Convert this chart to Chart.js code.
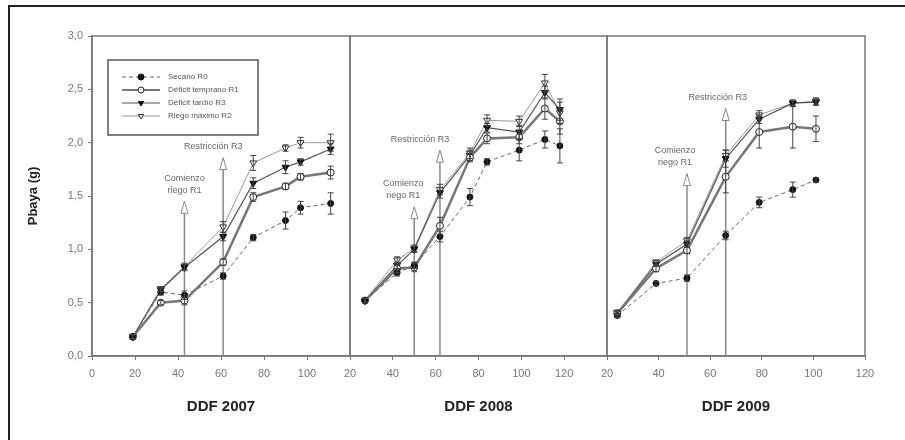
<!DOCTYPE html>
<html>
<head>
<meta charset="utf-8">
<script src="https://cdn.jsdelivr.net/npm/chart.js@4.4.1/dist/chart.umd.min.js"></script>
<style>
  body { margin: 0; background: #fff; }
  #wrap { position: relative; width: 905px; height: 440px; overflow: hidden; background: #fff; }
  #frame { position: absolute; left: 8px; top: 5px; width: 910px; height: 450px;
           border-top: 2px solid #222; border-left: 2px solid #222; }
  canvas { position: absolute; top: 0; }
</style>
</head>
<body>
<div id="wrap">
  <div id="frame"></div>
  <canvas id="c2007" width="360" height="440" style="left:0px;width:360px;height:440px"></canvas>
  <canvas id="c2008" width="290" height="440" style="left:330px;width:290px;height:440px"></canvas>
  <canvas id="c2009" width="300" height="440" style="left:587px;width:300px;height:440px"></canvas>
</div>
<script>
"use strict";

const seriesNames = ['Secano R0', 'Déficit temprano R1', 'Déficit tardío R3', 'Riego máximo R2'];

// DDF 2007
const days2007 = [19, 32, 43, 61, 75, 90, 97, 111];
const secano2007 = [0.18, 0.60, 0.57, 0.75, 1.11, 1.27, 1.39, 1.43];
const temprano2007 = [0.18, 0.50, 0.52, 0.88, 1.49, 1.59, 1.68, 1.72];
const tardio2007 = [0.18, 0.62, 0.83, 1.12, 1.62, 1.77, 1.82, 1.94];
const maximo2007 = [0.18, 0.63, 0.84, 1.21, 1.81, 1.95, 2.00, 2.00];
const secanoErr2007 = [0.02, 0.03, 0.04, 0.03, 0.03, 0.08, 0.06, 0.10];
const tempranoErr2007 = [0.02, 0.02, 0.04, 0.03, 0.04, 0.03, 0.03, 0.06];
const tardioErr2007 = [0.02, 0.02, 0.03, 0.04, 0.05, 0.06, 0.03, 0.05];
const maximoErr2007 = [0.02, 0.02, 0.03, 0.05, 0.07, 0.03, 0.05, 0.08];

// DDF 2008
const days2008 = [27, 42, 50, 62, 76, 84, 99, 111, 118];
const secano2008 = [0.52, 0.78, 0.85, 1.12, 1.49, 1.82, 1.93, 2.03, 1.97];
const temprano2008 = [0.52, 0.82, 0.83, 1.22, 1.86, 2.04, 2.05, 2.32, 2.20];
const tardio2008 = [0.52, 0.85, 1.00, 1.53, 1.88, 2.14, 2.10, 2.47, 2.31];
const maximo2008 = [0.52, 0.90, 1.01, 1.56, 1.90, 2.21, 2.20, 2.56, 2.28];
const secanoErr2008 = [0.02, 0.03, 0.03, 0.05, 0.08, 0.03, 0.10, 0.08, 0.16];
const tempranoErr2008 = [0.02, 0.04, 0.04, 0.08, 0.04, 0.05, 0.06, 0.10, 0.12];
const tardioErr2008 = [0.02, 0.03, 0.03, 0.05, 0.05, 0.04, 0.06, 0.06, 0.10];
const maximoErr2008 = [0.02, 0.03, 0.03, 0.05, 0.05, 0.05, 0.05, 0.08, 0.10];

// DDF 2009
const days2009 = [24, 39, 51, 66, 79, 92, 101];
const secano2009 = [0.38, 0.68, 0.73, 1.13, 1.44, 1.56, 1.65];
const temprano2009 = [0.40, 0.82, 0.99, 1.68, 2.10, 2.15, 2.13];
const tardio2009 = [0.40, 0.86, 1.05, 1.85, 2.22, 2.37, 2.38];
const maximo2009 = [0.41, 0.88, 1.08, 1.88, 2.26, 2.37, 2.39];
const secanoErr2009 = [0.02, 0.02, 0.03, 0.04, 0.05, 0.07, 0.02];
const tempranoErr2009 = [0.02, 0.03, 0.03, 0.15, 0.15, 0.20, 0.12];
const tardioErr2009 = [0.02, 0.02, 0.03, 0.08, 0.04, 0.03, 0.03];
const maximoErr2009 = [0.02, 0.02, 0.03, 0.05, 0.04, 0.03, 0.03];

const fontFam = '"Liberation Sans", Arial, sans-serif';

const seriesStyles = [
    { borderColor: '#666', borderWidth: 1, borderDash: [4, 3], pointStyle: 'circle', pointRotation: 0,
      pointRadius: 3, pointBackgroundColor: '#111', pointBorderColor: '#111' },
    { borderColor: '#777', borderWidth: 2.5, borderDash: [], pointStyle: 'circle', pointRotation: 0,
      pointRadius: 3.5, pointBackgroundColor: '#fff', pointBorderColor: '#222' },
    { borderColor: '#555', borderWidth: 1.2, borderDash: [], pointStyle: 'triangle', pointRotation: 180,
      pointRadius: 4, pointBackgroundColor: '#111', pointBorderColor: '#111' },
    { borderColor: '#999', borderWidth: 1, borderDash: [], pointStyle: 'triangle', pointRotation: 180,
      pointRadius: 4, pointBackgroundColor: '#fff', pointBorderColor: '#333' }
];

function make_datasets(days, values, errors) {
    return values.map((vals, i) => Object.assign({
        label: seriesNames[i],
        data: vals.map((v, j) => ({ x: days[j], y: v })),
        errors: errors[i],
        pointBorderWidth: 1,
        tension: 0,
        fill: false
    }, seriesStyles[i]));
}

const panelDecor = {
    id: 'panelDecor',
    beforeDatasetsDraw(chart, args, opts) {
        const ctx = chart.ctx;
        const xs = chart.scales.x, ys = chart.scales.y;
        ctx.save();
        (opts.arrows || []).forEach(a => {
            const x = xs.getPixelForValue(a.day);
            const y0 = ys.getPixelForValue(0);
            const y1 = ys.getPixelForValue(a.top);
            ctx.strokeStyle = '#888';
            ctx.lineWidth = 1.5;
            ctx.beginPath();
            ctx.moveTo(x, y0);
            ctx.lineTo(x, y1 + 10);
            ctx.stroke();
            ctx.beginPath();
            ctx.moveTo(x - 3.5, y1 + 12);
            ctx.lineTo(x, y1);
            ctx.lineTo(x + 3.5, y1 + 12);
            ctx.closePath();
            ctx.fillStyle = '#fff';
            ctx.fill();
            ctx.lineWidth = 1;
            ctx.stroke();
            ctx.fillStyle = '#666';
            ctx.font = '9px ' + fontFam;
            ctx.textAlign = 'center';
            ctx.textBaseline = 'middle';
            const n = a.label.length;
            a.label.forEach((t, k) => {
                ctx.fillText(t, x + a.dx, y1 - 11 - (n - 1 - k) * 12);
            });
        });
        ctx.restore();
    },
    afterDatasetsDraw(chart, args, opts) {
        const ctx = chart.ctx;
        const area = chart.chartArea;
        ctx.save();
        // error bars
        chart.data.datasets.forEach((ds, i) => {
            const meta = chart.getDatasetMeta(i);
            meta.data.forEach((pt, j) => {
                const e = ds.errors[j];
                const yTop = chart.scales.y.getPixelForValue(ds.data[j].y + e);
                const yBot = chart.scales.y.getPixelForValue(ds.data[j].y - e);
                ctx.strokeStyle = '#444';
                ctx.lineWidth = 1;
                ctx.beginPath();
                ctx.moveTo(pt.x, yTop); ctx.lineTo(pt.x, yBot);
                ctx.moveTo(pt.x - 3, yTop); ctx.lineTo(pt.x + 3, yTop);
                ctx.moveTo(pt.x - 3, yBot); ctx.lineTo(pt.x + 3, yBot);
                ctx.stroke();
            });
        });
        // panel frame
        ctx.strokeStyle = '#777';
        ctx.lineWidth = 1.5;
        ctx.strokeRect(area.left, area.top, area.right - area.left, area.bottom - area.top);
        // legend box
        if (opts.legend) {
            const L = opts.legend;
            ctx.strokeStyle = '#555';
            ctx.lineWidth = 1.5;
            ctx.strokeRect(L.x, L.y, L.w, L.h);
            chart.data.datasets.forEach((ds, i) => {
                const y = L.y + 17 + i * 13;
                ctx.strokeStyle = ds.borderColor;
                ctx.lineWidth = Math.min(ds.borderWidth, 2);
                ctx.setLineDash(ds.borderDash || []);
                ctx.beginPath();
                ctx.moveTo(L.x + 14, y);
                ctx.lineTo(L.x + 52, y);
                ctx.stroke();
                ctx.setLineDash([]);
                ctx.fillStyle = ds.pointBackgroundColor;
                ctx.strokeStyle = ds.pointBorderColor;
                ctx.lineWidth = 1;
                Chart.helpers.drawPoint(ctx, {
                    pointStyle: ds.pointStyle, rotation: ds.pointRotation,
                    radius: 3, borderWidth: 1
                }, L.x + 33, y);
                ctx.fillStyle = '#555';
                ctx.font = '8px ' + fontFam;
                ctx.textAlign = 'left';
                ctx.textBaseline = 'middle';
                ctx.fillText(ds.label, L.x + 60, y);
            });
        }
        ctx.restore();
    }
};

function build_panel(canvasId, cfg) {
    const first = cfg.showY;
    new Chart(document.getElementById(canvasId), {
        type: 'line',
        data: { datasets: make_datasets(cfg.days, cfg.values, cfg.errors) },
        options: {
            responsive: false,
            animation: false,
            layout: { padding: { left: cfg.padLeft, right: cfg.padRight, top: 36, bottom: 14 } },
            plugins: {
                legend: { display: false },
                tooltip: { enabled: false },
                panelDecor: { arrows: cfg.arrows, legend: cfg.legend }
            },
            scales: {
                x: {
                    type: 'linear',
                    min: cfg.xMin, max: cfg.xMax,
                    afterFit: s => { s.height = 70; },
                    afterBuildTicks: s => { s.ticks = s.ticks.filter(t => t.value % 20 === 0); },
                    ticks: {
                        stepSize: 20, autoSkip: false, maxRotation: 0, padding: 7,
                        color: '#777', font: { family: fontFam, size: 11 },
                        callback: v => (cfg.hideLast && v === cfg.xMax) ? '' : String(v)
                    },
                    grid: { drawOnChartArea: false, drawTicks: true, tickLength: 4, color: '#777' },
                    border: { display: true, color: '#777', width: 1.5 },
                    title: {
                        display: true, text: cfg.title, color: '#222',
                        font: { family: fontFam, size: 15, weight: 'bold' },
                        padding: { top: 4, bottom: 10 }
                    }
                },
                y: {
                    display: first,
                    min: 0, max: 3,
                    afterFit: s => { if (first) s.width = 92; },
                    ticks: {
                        stepSize: 0.5, padding: 5, color: '#777',
                        font: { family: fontFam, size: 11 },
                        callback: v => v.toFixed(1).replace('.', ',')
                    },
                    grid: { drawOnChartArea: false, drawTicks: true, tickLength: 4, color: '#777' },
                    border: { display: true, color: '#777', width: 1.5 },
                    title: {
                        display: first, text: 'Pbaya (g)', color: '#222',
                        font: { family: fontFam, size: 13, weight: 'bold' },
                        padding: { top: 26, bottom: 0 }
                    }
                }
            }
        },
        plugins: [panelDecor]
    });
}

build_panel('c2007', {
    showY: true, padLeft: 0, padRight: 10, xMin: 0, xMax: 120, hideLast: true,
    title: 'DDF 2007',
    days: days2007,
    values: [secano2007, temprano2007, tardio2007, maximo2007],
    errors: [secanoErr2007, tempranoErr2007, tardioErr2007, maximoErr2007],
    arrows: [
        { day: 43, top: 1.45, label: ['Comienzo', 'riego R1'], dx: 0 },
        { day: 61, top: 1.86, label: ['Restricción R3'], dx: -10 }
    ],
    legend: { x: 108, y: 60, w: 150, h: 75 }
});

build_panel('c2008', {
    showY: false, padLeft: 20, padRight: 13, xMin: 20, xMax: 140, hideLast: true,
    title: 'DDF 2008',
    days: days2008,
    values: [secano2008, temprano2008, tardio2008, maximo2008],
    errors: [secanoErr2008, tempranoErr2008, tardioErr2008, maximoErr2008],
    arrows: [
        { day: 50, top: 1.40, label: ['Comienzo', 'riego R1'], dx: -11 },
        { day: 62, top: 1.93, label: ['Restricción R3'], dx: -20 }
    ]
});

build_panel('c2009', {
    showY: false, padLeft: 20, padRight: 22, xMin: 20, xMax: 120, hideLast: false,
    title: 'DDF 2009',
    days: days2009,
    values: [secano2009, temprano2009, tardio2009, maximo2009],
    errors: [secanoErr2009, tempranoErr2009, tardioErr2009, maximoErr2009],
    arrows: [
        { day: 51, top: 1.71, label: ['Comienzo', 'riego R1'], dx: -12 },
        { day: 66, top: 2.32, label: ['Restricción R3'], dx: -8 }
    ]
});
</script>
</body>
</html>
